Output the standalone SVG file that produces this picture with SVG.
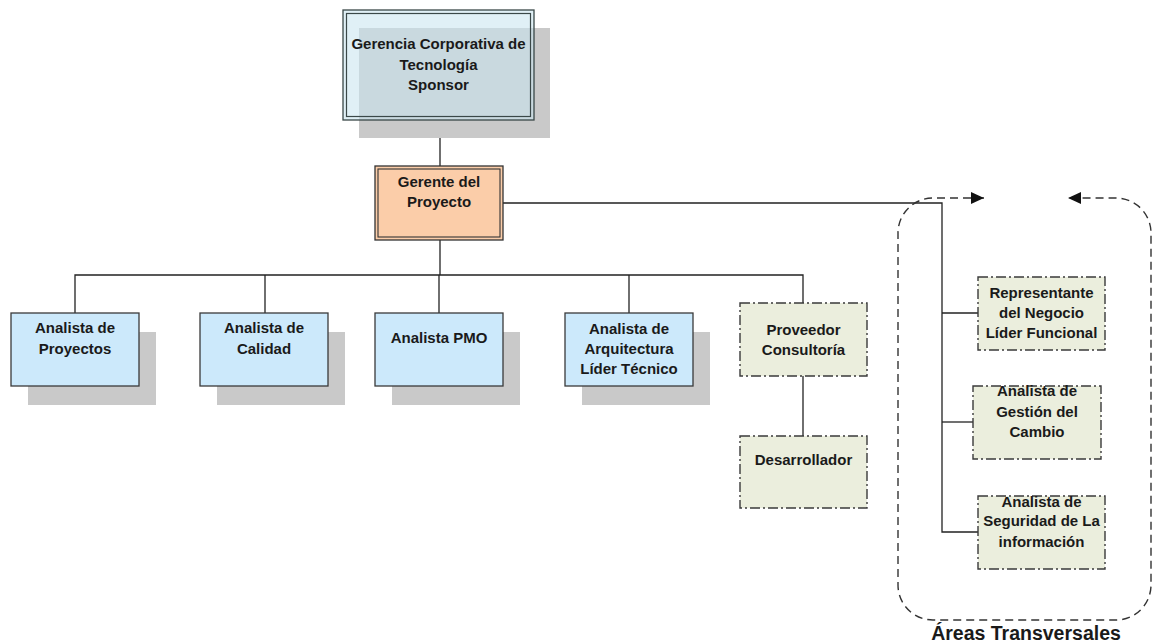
<svg xmlns="http://www.w3.org/2000/svg" width="1160" height="644" viewBox="0 0 1160 644">
<style>
.t{font-family:"Liberation Sans",Arial,sans-serif;font-size:15px;font-weight:bold;fill:#1a1a1a;text-anchor:middle}
.big{font-size:19.5px}
.sh{fill:#c9c9c9}
.blue{fill:#cce9fb;stroke:#3a3a3a;stroke-width:1.3}
.dd{fill:#ebeedd;stroke:#3a3a3a;stroke-width:1.4;stroke-dasharray:10 3 2 3}
.ln{fill:none;stroke:#222;stroke-width:1.3}
.dash{fill:none;stroke:#333;stroke-width:1.4;stroke-dasharray:8 5}
</style>
<defs>
<marker id="ah" markerUnits="userSpaceOnUse" markerWidth="14" markerHeight="14" refX="13" refY="7" orient="auto-start-reverse" viewBox="0 0 14 14">
<path d="M0,1 L13,7 L0,13 z" fill="#111" stroke="none"/>
</marker>
</defs>
<g id="connectors">
<path class="ln" d="M440,120 V166"/>
<path class="ln" d="M440,240 V275"/>
<path class="ln" d="M75,313 V275 H803 V303"/>
<path class="ln" d="M265,275 V313"/>
<path class="ln" d="M439,275 V313"/>
<path class="ln" d="M629,275 V313"/>
<path class="ln" d="M803,376 V436"/>
<path class="ln" d="M503,203 H942 V532 H978"/>
<path class="ln" d="M942,313 H978"/>
<path class="ln" d="M942,422 H973"/>
</g>
<g id="areas">
<path class="dash" marker-start="url(#ah)" marker-end="url(#ah)" d="M984,198 H933 A35,35 0 0 0 898,233 V585 A35,35 0 0 0 933,620 H1116 A35,35 0 0 0 1151,585 V233 A35,35 0 0 0 1116,198 H1068"/>
<text class="t big" x="1026" y="640">Áreas Transversales</text>
</g>
<g id="gerencia">
<rect class="sh" x="359" y="28" width="191" height="110"/>
<rect x="343" y="10" width="191" height="110" fill="rgb(201,229,240)" fill-opacity="0.58" stroke="#3a4848" stroke-width="1.3"/>
<rect x="346.5" y="13.5" width="184" height="103" fill="none" stroke="#3a4848" stroke-width="1.2"/>
<text class="t" x="438.5" y="49">Gerencia Corporativa de</text>
<text class="t" x="438.5" y="70">Tecnología</text>
<text class="t" x="438.5" y="90">Sponsor</text>
</g>
<g id="gerente">
<rect x="375" y="166" width="128" height="74" fill="#fbcda9" stroke="#333" stroke-width="1.3"/>
<rect x="378" y="169" width="122" height="68" fill="none" stroke="#333" stroke-width="1.1"/>
<text class="t" x="439" y="187">Gerente del</text>
<text class="t" x="439" y="207">Proyecto</text>
</g>
<g id="proyectos">
<rect class="sh" x="28" y="332" width="128" height="73"/>
<rect class="blue" x="11" y="313" width="128" height="73"/>
<text class="t" x="75" y="333">Analista de</text>
<text class="t" x="75" y="354">Proyectos</text>
</g>
<g id="calidad">
<rect class="sh" x="217" y="332" width="128" height="73"/>
<rect class="blue" x="200" y="313" width="128" height="73"/>
<text class="t" x="264" y="333">Analista de</text>
<text class="t" x="264" y="354">Calidad</text>
</g>
<g id="pmo">
<rect class="sh" x="392" y="332" width="128" height="73"/>
<rect class="blue" x="375" y="313" width="128" height="73"/>
<text class="t" x="439" y="343">Analista PMO</text>
</g>
<g id="arquitectura">
<rect class="sh" x="582" y="332" width="128" height="73"/>
<rect class="blue" x="565" y="313" width="128" height="73"/>
<text class="t" x="629" y="334">Analista de</text>
<text class="t" x="629" y="354">Arquitectura</text>
<text class="t" x="629" y="374">Líder Técnico</text>
</g>
<g id="proveedor">
<rect class="dd" x="740" y="303" width="127" height="73"/>
<text class="t" x="803.5" y="335">Proveedor</text>
<text class="t" x="803.5" y="355">Consultoría</text>
</g>
<g id="desarrollador">
<rect class="dd" x="740" y="436" width="127" height="72"/>
<text class="t" x="803.5" y="465">Desarrollador</text>
</g>
<g id="representante">
<rect class="dd" x="978" y="277" width="127" height="73"/>
<text class="t" x="1041.5" y="298">Representante</text>
<text class="t" x="1041.5" y="318">del Negocio</text>
<text class="t" x="1041.5" y="338">Líder Funcional</text>
</g>
<g id="gestion">
<rect class="dd" x="973" y="386" width="128" height="73"/>
<text class="t" x="1037" y="396">Analista de</text>
<text class="t" x="1037" y="417">Gestión del</text>
<text class="t" x="1037" y="437">Cambio</text>
</g>
<g id="seguridad">
<rect class="dd" x="978" y="496" width="127" height="73"/>
<text class="t" x="1041.5" y="507">Analista de</text>
<text class="t" x="1041.5" y="526">Seguridad de La</text>
<text class="t" x="1041.5" y="547">información</text>
</g>
</svg>
